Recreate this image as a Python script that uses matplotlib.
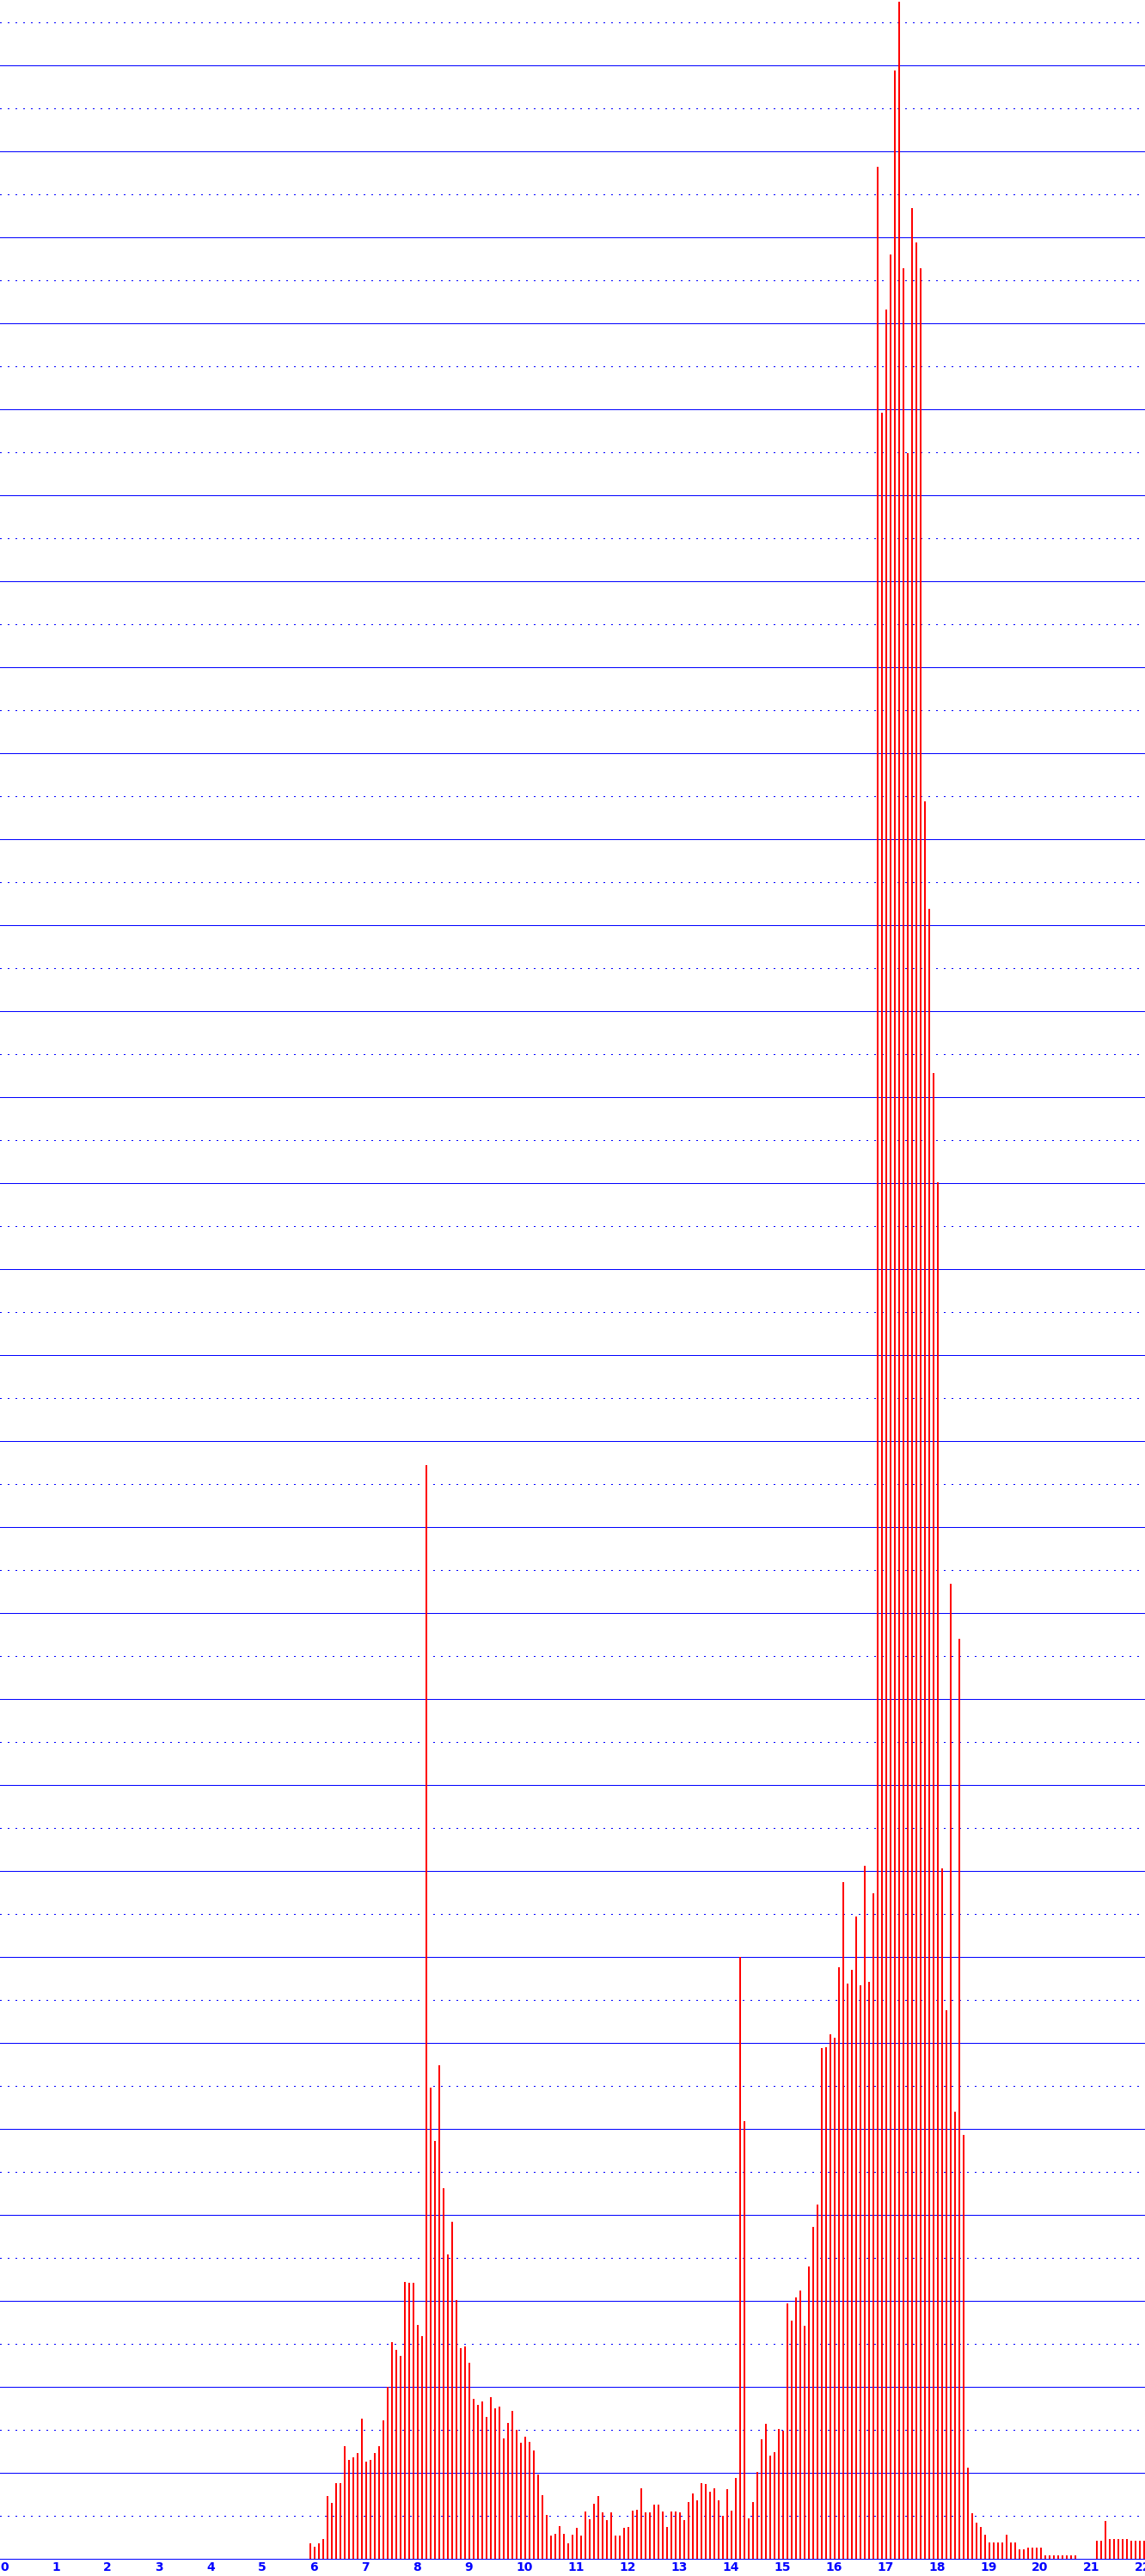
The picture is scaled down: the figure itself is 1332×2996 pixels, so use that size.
import numpy as np
import matplotlib.pyplot as plt

# Bar heights (one bar every 1/12 of a unit, starting at x = 6)
x_start = 6.0
bins_per_unit = 12
heights = [
    0.18, 0.14, 0.18, 0.23, 0.73, 0.65, 0.88, 0.88, 1.31, 1.15, 1.18, 1.23,
    1.63, 1.13, 1.15, 1.23, 1.31, 1.61, 2.00, 2.52, 2.43, 2.36, 3.22, 3.21,
    3.21, 2.72, 2.59, 12.72, 5.48, 4.86, 5.74, 4.31, 3.54, 3.92, 3.01, 2.45,
    2.47, 2.28, 1.86, 1.79, 1.83, 1.65, 1.88, 1.75, 1.77, 1.40, 1.58, 1.72,
    1.50, 1.35, 1.42, 1.36, 1.26, 0.98, 0.74, 0.51, 0.27, 0.29, 0.38, 0.29,
    0.18, 0.28, 0.36, 0.27, 0.55, 0.46, 0.64, 0.73, 0.54, 0.45, 0.54, 0.27,
    0.27, 0.36, 0.37, 0.56, 0.57, 0.82, 0.54, 0.54, 0.63, 0.63, 0.55, 0.37,
    0.55, 0.55, 0.54, 0.45, 0.66, 0.76, 0.68, 0.88, 0.87, 0.78, 0.82, 0.68,
    0.50, 0.81, 0.56, 0.94, 7.00, 5.09, 0.47, 0.66, 1.01, 1.39, 1.57, 1.20,
    1.24, 1.51, 1.49, 2.97, 2.77, 3.04, 3.12, 2.71, 3.40, 3.86, 4.12, 5.94,
    5.95, 6.10, 6.06, 6.88, 7.87, 6.69, 6.85, 7.47, 6.67, 8.06, 6.71, 7.74,
    27.82, 24.96, 26.16, 26.80, 28.94, 29.74, 26.64, 24.49, 27.34, 26.94, 26.64, 20.44,
    19.19, 17.28, 16.01, 8.03, 6.38, 11.34, 5.20, 10.70, 4.93, 1.06, 0.53, 0.42,
    0.37, 0.28, 0.19, 0.19, 0.19, 0.19, 0.28, 0.19, 0.19, 0.11, 0.11, 0.13,
    0.13, 0.13, 0.13, 0.04, 0.04, 0.04, 0.04, 0.04, 0.04, 0.04, 0.04, 0.00,
    0.00, 0.00, 0.00, 0.21, 0.21, 0.44, 0.23, 0.23, 0.23, 0.23, 0.23, 0.21,
    0.21, 0.21, 0.21,
]
tick_labels = [str(i) for i in range(23)]

x = x_start + np.arange(len(heights)) / bins_per_unit

W, H, DPI = 1332, 2996, 100
px_per_unit = 60.0          # 60 pixels per x unit
y_top = 29.76               # plot reaches the top edge

fig = plt.figure(figsize=(W / DPI, H / DPI), dpi=DPI, facecolor='white')
ax = fig.add_axes([0, 20 / H, 1, 2976 / H])
ax.set_xlim(0, W / px_per_unit)
ax.set_ylim(0, y_top)
for s in ax.spines.values():
    s.set_visible(False)

# horizontal grid: solid every unit, dotted in between
lw = 72 / DPI
for i in range(30):
    ax.axhline(i, color='#0000ff', lw=lw, antialiased=False, zorder=1, clip_on=False)
    ax.axhline(i + 0.5, color='#0000ff', lw=lw, ls=(0, (2, 8)), antialiased=False, zorder=1)

# thin red bars
ax.bar(x, heights, width=2 / px_per_unit, align='edge', color='#ff0000',
       linewidth=0, antialiased=False, zorder=3)

ax.set_yticks([])
ax.set_xticks(range(len(tick_labels)))
ax.set_xticklabels(tick_labels, ha='left', color='#0000ff', fontsize=10,
                   fontweight='bold', fontfamily='DejaVu Sans')
ax.tick_params(axis='x', length=0, pad=2)

fig.savefig('out.png', dpi=DPI, facecolor='white')
